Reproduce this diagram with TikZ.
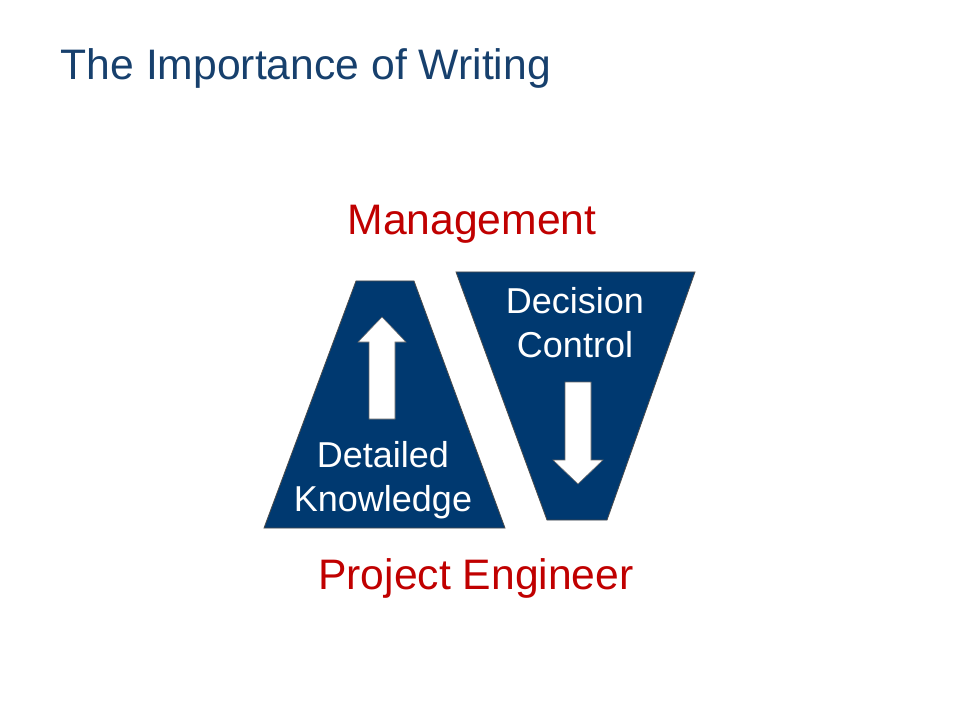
\documentclass[tikz,border=0pt]{standalone}
\usepackage{fontspec}
\setmainfont{Liberation Sans}
\definecolor{navy}{RGB}{0,57,112}
\definecolor{titleblue}{RGB}{23,64,109}
\definecolor{redlbl}{RGB}{192,0,0}
\begin{document}
\begin{tikzpicture}[x=0.75pt,y=-0.75pt,
  shapefill/.style={fill=navy,draw=black!70,line width=0.6pt},
  arrowshape/.style={fill=white,draw=black!60,line width=0.4pt},
  whitetxt/.style={text=white,font=\fontsize{27}{33}\selectfont,align=center},
  redtxt/.style={text=redlbl,font=\fontsize{32}{38}\selectfont}]
\useasboundingbox (0,0) rectangle (960,720);
\node[anchor=west,text=titleblue,font=\fontsize{32}{38}\selectfont] (title) at (56,68) {The Importance of Writing};
\node[redtxt] (mgmt) at (472,224) {Management};
\node[redtxt] (pe) at (476,578) {Project Engineer};
\draw[shapefill] (356,281) -- (414,281) -- (505,528) -- (264,528) -- cycle;
\draw[shapefill] (456,272) -- (695,272) -- (607,520) -- (547,520) -- cycle;
\draw[arrowshape] (382,317) -- (406,342) -- (395,342) -- (395,419) -- (369,419) -- (369,342) -- (358,342) -- cycle;
\draw[arrowshape] (578,484) -- (603,460) -- (591,460) -- (591,382) -- (565,382) -- (565,460) -- (553,460) -- cycle;
\node[whitetxt] (dk) at (383,480) {Detailed\\Knowledge};
\node[whitetxt] (dc) at (575,323) {Decision\\Control};
\end{tikzpicture}
\end{document}
